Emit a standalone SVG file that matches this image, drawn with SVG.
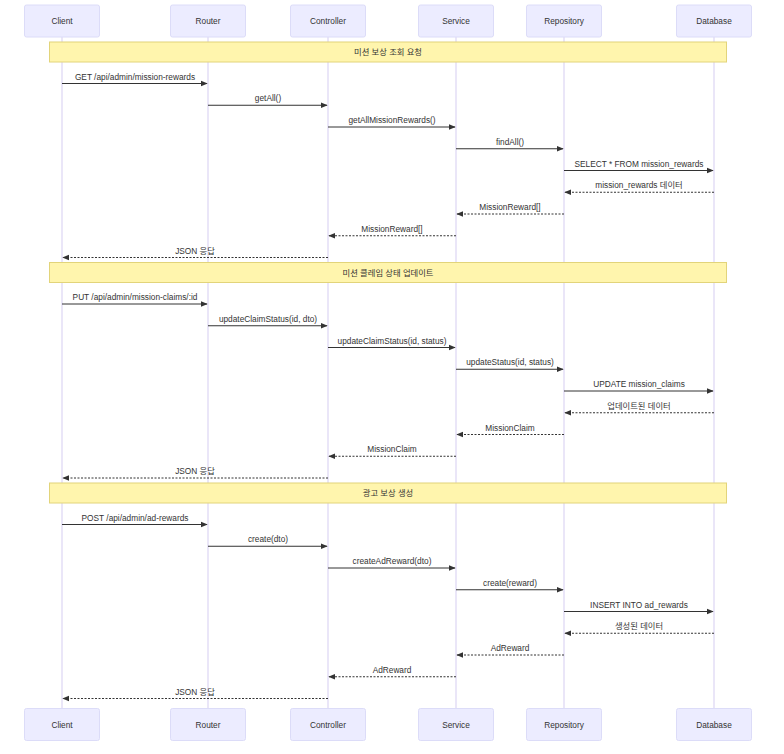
<svg xmlns="http://www.w3.org/2000/svg" width="784" height="754" viewBox="0 0 784 754">
  <style>
    text { font-family: "Liberation Sans", "Noto Sans CJK KR", sans-serif; fill: #333; text-anchor: middle; }
    .actor rect { fill: #ececff; stroke: #dcdcf8; stroke-width: 1; }
    .actor text { font-size: 8.3px; }
    .life { stroke: #dcd6f4; stroke-width: 1.2; }
    .note rect { fill: #fff5ad; stroke: #e2d47a; stroke-width: 1; }
    .note text { font-size: 8.3px; }
    .msg line { stroke: #333; stroke-width: 1; }
    .msg line.ret { stroke-dasharray: 2 1.5; }
    .msg text { font-size: 8.3px; }
  </style>
  <defs>
    <marker id="arrow" viewBox="0 0 10 10" refX="9" refY="5" markerWidth="7" markerHeight="7" markerUnits="userSpaceOnUse" orient="auto">
      <path d="M0,1 L10,5 L0,9 Z" fill="#333"/>
    </marker>
  </defs>
  <rect width="784" height="754" fill="#ffffff"/>

  <!-- lifelines -->
  <g id="lifelines">
    <line class="life" x1="62" y1="37" x2="62" y2="708"/>
    <line class="life" x1="208" y1="37" x2="208" y2="708"/>
    <line class="life" x1="328" y1="37" x2="328" y2="708"/>
    <line class="life" x1="456" y1="37" x2="456" y2="708"/>
    <line class="life" x1="564" y1="37" x2="564" y2="708"/>
    <line class="life" x1="714" y1="37" x2="714" y2="708"/>
  </g>

  <!-- participants (top) -->
  <g id="client" class="actor"><rect x="24.5" y="5" width="75" height="32" rx="2"/><text x="62" y="24">Client</text></g>
  <g id="router" class="actor"><rect x="170.5" y="5" width="75" height="32" rx="2"/><text x="208" y="24">Router</text></g>
  <g id="controller" class="actor"><rect x="290.5" y="5" width="75" height="32" rx="2"/><text x="328" y="24">Controller</text></g>
  <g id="service" class="actor"><rect x="418.5" y="5" width="75" height="32" rx="2"/><text x="456" y="24">Service</text></g>
  <g id="repository" class="actor"><rect x="526.5" y="5" width="75" height="32" rx="2"/><text x="564" y="24">Repository</text></g>
  <g id="database" class="actor"><rect x="676.5" y="5" width="75" height="32" rx="2"/><text x="714" y="24">Database</text></g>

  <!-- participants (bottom) -->
  <g id="client-bottom" class="actor"><rect x="24.5" y="708.5" width="75" height="32" rx="2"/><text x="62" y="727.5">Client</text></g>
  <g id="router-bottom" class="actor"><rect x="170.5" y="708.5" width="75" height="32" rx="2"/><text x="208" y="727.5">Router</text></g>
  <g id="controller-bottom" class="actor"><rect x="290.5" y="708.5" width="75" height="32" rx="2"/><text x="328" y="727.5">Controller</text></g>
  <g id="service-bottom" class="actor"><rect x="418.5" y="708.5" width="75" height="32" rx="2"/><text x="456" y="727.5">Service</text></g>
  <g id="repository-bottom" class="actor"><rect x="526.5" y="708.5" width="75" height="32" rx="2"/><text x="564" y="727.5">Repository</text></g>
  <g id="database-bottom" class="actor"><rect x="676.5" y="708.5" width="75" height="32" rx="2"/><text x="714" y="727.5">Database</text></g>

  <!-- notes -->
  <g id="note-lookup" class="note"><rect x="49.5" y="42" width="677" height="20"/><text x="388" y="55">미션 보상 조회 요청</text></g>
  <g id="note-claim" class="note"><rect x="49.5" y="262.5" width="677" height="20"/><text x="388" y="275.5">미션 클레임 상태 업데이트</text></g>
  <g id="note-ad" class="note"><rect x="49.5" y="483" width="677" height="20"/><text x="388" y="496">광고 보상 생성</text></g>

  <!-- messages -->
  <g id="connectors" class="msg">
    <!-- mission reward lookup -->
    <line x1="62" y1="83.5" x2="207" y2="83.5" marker-end="url(#arrow)"/>
    <text x="135" y="79.5">GET /api/admin/mission-rewards</text>
    <line x1="208" y1="105.25" x2="327" y2="105.25" marker-end="url(#arrow)"/>
    <text x="268" y="101.25">getAll()</text>
    <line x1="328" y1="127" x2="455" y2="127" marker-end="url(#arrow)"/>
    <text x="392" y="123">getAllMissionRewards()</text>
    <line x1="456" y1="148.75" x2="563" y2="148.75" marker-end="url(#arrow)"/>
    <text x="510" y="144.75">findAll()</text>
    <line x1="564" y1="170.5" x2="713" y2="170.5" marker-end="url(#arrow)"/>
    <text x="639" y="166.5">SELECT * FROM mission_rewards</text>
    <line class="ret" x1="714" y1="192.25" x2="565" y2="192.25" marker-end="url(#arrow)"/>
    <text x="639" y="188.25">mission_rewards 데이터</text>
    <line class="ret" x1="564" y1="214" x2="457" y2="214" marker-end="url(#arrow)"/>
    <text x="510" y="210">MissionReward[]</text>
    <line class="ret" x1="456" y1="235.75" x2="329" y2="235.75" marker-end="url(#arrow)"/>
    <text x="392" y="231.75">MissionReward[]</text>
    <line class="ret" x1="328" y1="257.5" x2="63" y2="257.5" marker-end="url(#arrow)"/>
    <text x="195" y="253.5">JSON 응답</text>

    <!-- mission claim update -->
    <line x1="62" y1="304" x2="207" y2="304" marker-end="url(#arrow)"/>
    <text x="135" y="300">PUT /api/admin/mission-claims/:id</text>
    <line x1="208" y1="325.75" x2="327" y2="325.75" marker-end="url(#arrow)"/>
    <text x="268" y="321.75">updateClaimStatus(id, dto)</text>
    <line x1="328" y1="347.5" x2="455" y2="347.5" marker-end="url(#arrow)"/>
    <text x="392" y="343.5">updateClaimStatus(id, status)</text>
    <line x1="456" y1="369.25" x2="563" y2="369.25" marker-end="url(#arrow)"/>
    <text x="510" y="365.25">updateStatus(id, status)</text>
    <line x1="564" y1="391" x2="713" y2="391" marker-end="url(#arrow)"/>
    <text x="639" y="387">UPDATE mission_claims</text>
    <line class="ret" x1="714" y1="412.75" x2="565" y2="412.75" marker-end="url(#arrow)"/>
    <text x="639" y="408.75">업데이트된 데이터</text>
    <line class="ret" x1="564" y1="434.5" x2="457" y2="434.5" marker-end="url(#arrow)"/>
    <text x="510" y="430.5">MissionClaim</text>
    <line class="ret" x1="456" y1="456.25" x2="329" y2="456.25" marker-end="url(#arrow)"/>
    <text x="392" y="452.25">MissionClaim</text>
    <line class="ret" x1="328" y1="478" x2="63" y2="478" marker-end="url(#arrow)"/>
    <text x="195" y="474">JSON 응답</text>

    <!-- ad reward creation -->
    <line x1="62" y1="524.5" x2="207" y2="524.5" marker-end="url(#arrow)"/>
    <text x="135" y="520.5">POST /api/admin/ad-rewards</text>
    <line x1="208" y1="546.25" x2="327" y2="546.25" marker-end="url(#arrow)"/>
    <text x="268" y="542.25">create(dto)</text>
    <line x1="328" y1="568" x2="455" y2="568" marker-end="url(#arrow)"/>
    <text x="392" y="564">createAdReward(dto)</text>
    <line x1="456" y1="589.75" x2="563" y2="589.75" marker-end="url(#arrow)"/>
    <text x="510" y="585.75">create(reward)</text>
    <line x1="564" y1="611.5" x2="713" y2="611.5" marker-end="url(#arrow)"/>
    <text x="639" y="607.5">INSERT INTO ad_rewards</text>
    <line class="ret" x1="714" y1="633.25" x2="565" y2="633.25" marker-end="url(#arrow)"/>
    <text x="639" y="629.25">생성된 데이터</text>
    <line class="ret" x1="564" y1="655" x2="457" y2="655" marker-end="url(#arrow)"/>
    <text x="510" y="651">AdReward</text>
    <line class="ret" x1="456" y1="676.75" x2="329" y2="676.75" marker-end="url(#arrow)"/>
    <text x="392" y="672.75">AdReward</text>
    <line class="ret" x1="328" y1="698.5" x2="63" y2="698.5" marker-end="url(#arrow)"/>
    <text x="195" y="694.5">JSON 응답</text>
  </g>
</svg>
